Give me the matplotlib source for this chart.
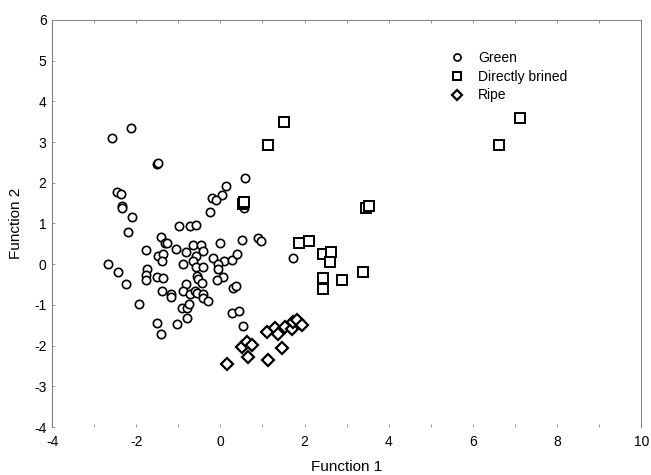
import matplotlib.pyplot as plt

plt.rcParams['font.family'] = ['Liberation Sans', 'DejaVu Sans']
plt.rcParams['axes.unicode_minus'] = False

# Discriminant scores
green_x = [-2.13, -2.58, -1.51, -1.49, -2.46, -2.36, -2.34, -2.34, -2.10, 0.58,
           0.13, 0.03, -0.20, -0.11, -0.25, 0.56, 0.51, 0.89, 0.96, 1.72,
           -0.99, -0.73, -0.58, -2.20, -1.41, -1.32, -1.27, -1.77, -1.06, -0.82,
           -0.65, -0.47, -0.42, -0.01, -1.49, -1.37, -1.39, -0.58, -0.65, -0.18,
           0.08, -0.06, 0.27, 0.39, -2.67, -2.43, -0.89, -0.58, -0.42, -1.74,
           -1.77, -1.77, -1.51, -1.37, -2.24, -0.56, -0.54, -0.44, -0.06, 0.06,
           -0.09, -0.82, -0.89, -0.73, -0.61, -0.56, -0.42, -0.42, -0.30, -1.39,
           -1.18, -1.18, -1.94, -0.92, -0.80, -0.75, -0.80, -1.51, -1.03, -1.41,
           0.29, 0.37, 0.27, 0.44, 0.53]
green_y = [3.34, 3.09, 2.47, 2.49, 1.78, 1.73, 1.42, 1.37, 1.15, 2.11,
           1.91, 1.71, 1.62, 1.57, 1.27, 1.37, 0.60, 0.65, 0.58, 0.14,
           0.93, 0.93, 0.97, 0.80, 0.68, 0.53, 0.53, 0.36, 0.38, 0.29,
           0.46, 0.48, 0.33, 0.51, 0.21, 0.26, 0.09, 0.21, 0.09, 0.14,
           0.09, 0.01, 0.11, 0.26, 0.01, -0.18, 0.01, -0.06, -0.08, -0.11,
           -0.26, -0.40, -0.31, -0.35, -0.48, -0.28, -0.36, -0.45, -0.13, -0.31,
           -0.40, -0.48, -0.65, -0.72, -0.65, -0.70, -0.72, -0.82, -0.90, -0.67,
           -0.72, -0.80, -0.97, -1.07, -1.07, -0.97, -1.32, -1.44, -1.46, -1.71,
           -0.58, -0.53, -1.19, -1.14, -1.53]

brined_x = [1.50, 1.13, 0.53, 0.55, 1.86, 2.10, 2.43, 2.62, 2.60, 2.43,
            2.43, 2.90, 3.38, 3.45, 3.53, 6.63, 7.13]
brined_y = [3.49, 2.94, 1.49, 1.52, 0.53, 0.57, 0.24, 0.29, 0.06, -0.33,
            -0.60, -0.38, -0.18, 1.39, 1.42, 2.94, 3.58]

ripe_x = [0.15, 0.51, 0.63, 0.75, 0.65, 1.13, 1.10, 1.29, 1.37, 1.46,
          1.53, 1.70, 1.72, 1.82, 1.93]
ripe_y = [-2.46, -2.03, -1.91, -1.98, -2.28, -2.35, -1.67, -1.57, -1.72, -2.06,
          -1.54, -1.59, -1.42, -1.37, -1.49]

fig = plt.figure(figsize=(6.51, 4.75), dpi=100)
ax = fig.add_axes([0.080, 0.101, 0.905, 0.857])

ax.plot(green_x, green_y, 'o', ms=6, mfc='white', mec='black', mew=1.2,
        label='Green')
ax.plot(brined_x, brined_y, 's', ms=7, mfc='white', mec='black', mew=1.4,
        label='Directly brined')
ax.plot(ripe_x, ripe_y, 'D', ms=6.5, mfc='white', mec='black', mew=1.6,
        label='Ripe')

ax.set_xlim(-4, 10)
ax.set_ylim(-4, 6)
ax.set_xticks(range(-4, 11, 2))
ax.set_xticks(range(-4, 11), minor=True)
ax.set_yticks(range(-4, 7))
ax.tick_params(which='both', direction='in', length=2, width=0.6,
               colors='#888888', labelcolor='black', labelsize=10, pad=4)
ax.tick_params(axis='x', pad=6)
ax.tick_params(top=True, which='both')

ax.spines['bottom'].set_visible(False)
ax.spines['top'].set_color('#888888')
ax.spines['top'].set_linewidth(0.8)
for s in ['left', 'right']:
    ax.spines[s].set_linestyle((0, (1, 1)))
    ax.spines[s].set_color('#777777')
    ax.spines[s].set_linewidth(0.7)

ax.set_xlabel('Function 1', fontsize=11, labelpad=8)
ax.set_ylabel('Function 2', fontsize=11, labelpad=8)

leg = ax.legend(loc='upper left', bbox_to_anchor=(0.655, 0.955), frameon=False,
                fontsize=10, handletextpad=1.0, labelspacing=0.35,
                handlelength=1.0, markerscale=0.85)

fig.savefig('out.png', dpi=100)
